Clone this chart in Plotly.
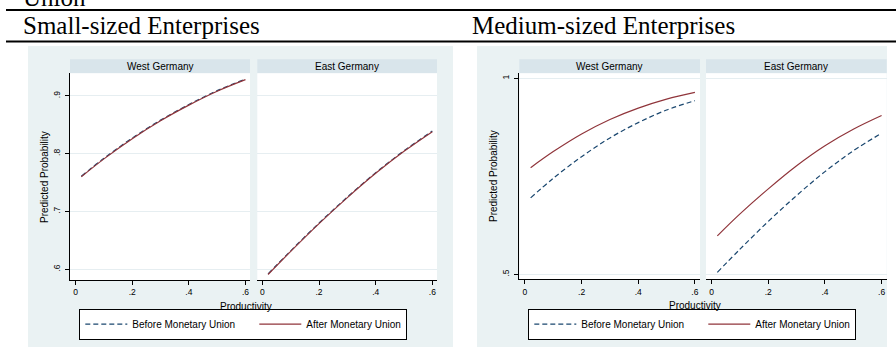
import plotly.graph_objects as go

# ---------------- data ----------------
x_prod = [0.02, 0.1, 0.2, 0.3, 0.4, 0.5, 0.6]

small_west_before = [0.761, 0.792, 0.827, 0.858, 0.885, 0.909, 0.929]
small_west_after = [0.760, 0.791, 0.826, 0.857, 0.884, 0.908, 0.928]
small_east_before = [0.592, 0.632, 0.680, 0.725, 0.767, 0.805, 0.839]
small_east_after = [0.591, 0.631, 0.679, 0.724, 0.766, 0.804, 0.838]

med_west_before = [0.695, 0.745, 0.800, 0.848, 0.887, 0.919, 0.943]
med_west_after = [0.772, 0.813, 0.858, 0.895, 0.924, 0.947, 0.964]
med_east_before = [0.505, 0.564, 0.635, 0.701, 0.762, 0.815, 0.860]
med_east_after = [0.598, 0.654, 0.718, 0.777, 0.828, 0.870, 0.905]

series_names = ["Before Monetary Union", "After Monetary Union"]
panel_titles = ["West Germany", "East Germany"]
group_titles = ["Small-sized Enterprises", "Medium-sized Enterprises"]
x_tick_vals = [0, 0.2, 0.4, 0.6]
x_tick_text = ["0", ".2", ".4", ".6"]
small_y_tick_vals = [0.6, 0.7, 0.8, 0.9]
small_y_tick_text = [".6", ".7", ".8", ".9"]
med_y_tick_vals = [0.5, 1.0]
med_y_tick_text = [".5", "1"]

# ---------------- styling ----------------
W, H = 896, 347
NAVY = "#1A476F"
MAROON = "#90353B"
REGION = "#EAF2F3"
STRIP = "#D9E5EB"
GRID = "#E6EEF1"
SANS = "Liberation Sans"
SERIF = "Liberation Serif"


def px(v):
    return v / W


def py(v):
    return 1 - v / H


fig = go.Figure()

panels = [
    ("x", "y", small_west_before, small_west_after, "legend", True),
    ("x2", "y2", small_east_before, small_east_after, "legend", False),
    ("x3", "y3", med_west_before, med_west_after, "legend2", True),
    ("x4", "y4", med_east_before, med_east_after, "legend2", False),
]
for xa, ya, before, after, lg, show in panels:
    fig.add_trace(go.Scatter(
        x=x_prod, y=before, xaxis=xa, yaxis=ya, mode="lines",
        name=series_names[0], legend=lg, showlegend=show, legendwidth=117,
        line=dict(color=NAVY, width=1.2, dash="5px,3px", shape="spline")))
    fig.add_trace(go.Scatter(
        x=x_prod, y=after, xaxis=xa, yaxis=ya, mode="lines",
        name=series_names[1], legend=lg, showlegend=show,
        line=dict(color=MAROON, width=1.2, shape="spline")))

# panel geometry (pixels)
x_doms = [(70, 250), (257.3, 437), (519.3, 700), (706, 886.7)]
y_doms = [(73.3, 280), (73.3, 280), (73.3, 279.3), (73.3, 279.3)]
x_ranges = [[-0.02, 0.616], [-0.018, 0.6165], [-0.02, 0.618], [-0.02, 0.618]]
y_ranges = [[0.5815, 0.939], [0.5815, 0.939], [0.4872, 1.0128], [0.4872, 1.0128]]
y_ticks = [(small_y_tick_vals, small_y_tick_text)] * 2 + [(med_y_tick_vals, med_y_tick_text)] * 2

tickfont = dict(family=SANS, size=8.5, color="black")
layout_axes = {}
for i in range(4):
    sfx = "" if i == 0 else str(i + 1)
    first = i in (0, 2)
    layout_axes["xaxis" + sfx] = dict(
        domain=[px(x_doms[i][0]), px(x_doms[i][1])],
        range=x_ranges[i], anchor="y" + sfx,
        tickvals=x_tick_vals, ticktext=x_tick_text,
        ticks="outside", ticklen=4, tickwidth=1, tickcolor="black",
        showline=True, linecolor="black", linewidth=1,
        showgrid=False, zeroline=False, tickfont=tickfont,
        ticklabelstandoff=0, fixedrange=True)
    tv, tt = y_ticks[i]
    layout_axes["yaxis" + sfx] = dict(
        domain=[py(y_doms[i][1]), py(y_doms[i][0])],
        range=y_ranges[i], anchor="x" + sfx,
        tickvals=tv, ticktext=tt, tickangle=-90,
        ticks="outside" if first else "", ticklen=4, tickwidth=1, tickcolor="black",
        showticklabels=first,
        showline=first, linecolor="black", linewidth=1,
        showgrid=True, gridcolor=GRID, gridwidth=1,
        zeroline=False, tickfont=tickfont, ticklabelstandoff=2, fixedrange=True)

shapes = []
# graph regions
for x0, x1 in [(28, 453), (477, 887)]:
    shapes.append(dict(type="rect", xref="paper", yref="paper", layer="below",
                       x0=px(x0), x1=px(x1), y0=py(347), y1=py(46),
                       fillcolor=REGION, line=dict(width=0)))
# strips and white plot regions
for i in range(4):
    x0, x1 = x_doms[i]
    shapes.append(dict(type="rect", xref="paper", yref="paper", layer="below",
                       x0=px(x0), x1=px(x1), y0=py(73.3), y1=py(59.3),
                       fillcolor=STRIP, line=dict(width=0)))
    shapes.append(dict(type="rect", xref="paper", yref="paper", layer="below",
                       x0=px(x0), x1=px(x1), y0=py(y_doms[i][1]), y1=py(y_doms[i][0]),
                       fillcolor="white", line=dict(width=0)))
# table rules
for yy in (10, 41.5):
    shapes.append(dict(type="line", xref="paper", yref="paper", layer="above",
                       x0=px(6), x1=px(896), y0=py(yy), y1=py(yy),
                       line=dict(color="black", width=2)))

annotations = []
# caption tail
annotations.append(dict(text="Union", xref="paper", yref="paper", x=px(21), y=py(-3),
                        xanchor="left", yanchor="middle", showarrow=False,
                        font=dict(family=SERIF, size=25, color="black")))
for gx, gt in zip((21, 470), group_titles):
    annotations.append(dict(text=gt, xref="paper", yref="paper", x=px(gx), y=py(25.5),
                            xanchor="left", yanchor="middle", showarrow=False,
                            font=dict(family=SERIF, size=25, color="black")))
# strip labels
for i in range(4):
    x0, x1 = x_doms[i]
    annotations.append(dict(text=panel_titles[i % 2], xref="paper", yref="paper",
                            x=px((x0 + x1) / 2), y=py(66.5), xanchor="center", yanchor="middle",
                            showarrow=False, font=dict(family=SANS, size=10, color="black")))
# axis titles
for cx, cy in [(45, 177), (493, 176)]:
    annotations.append(dict(text="Predicted Probability", xref="paper", yref="paper",
                            x=px(cx), y=py(cy), xanchor="center", yanchor="middle", textangle=-90,
                            showarrow=False, font=dict(family=SANS, size=10, color="black")))
for cx, cy in [(245.5, 306), (695, 305.5)]:
    annotations.append(dict(text="Productivity", xref="paper", yref="paper",
                            x=px(cx), y=py(cy), xanchor="center", yanchor="middle",
                            showarrow=False, font=dict(family=SANS, size=10, color="black")))

legend_common = dict(orientation="h", xanchor="left", yanchor="middle",
                     bgcolor="white", bordercolor="black", borderwidth=1,
                     font=dict(family=SANS, size=10, color="black"),
                     traceorder="normal", itemwidth=42)

fig.update_layout(
    width=W, height=H, margin=dict(l=0, r=0, t=0, b=0),
    paper_bgcolor="white", plot_bgcolor="white",
    shapes=shapes, annotations=annotations,
    legend=dict(x=px(79.3), y=py(324.2), **legend_common),
    legend2=dict(x=px(528.3), y=py(324.2), **legend_common),
    **layout_axes,
)

fig.write_html("out.html", config={"displayModeBar": False},
               post_script="document.body.style.margin='0';document.body.style.overflow='hidden';")
